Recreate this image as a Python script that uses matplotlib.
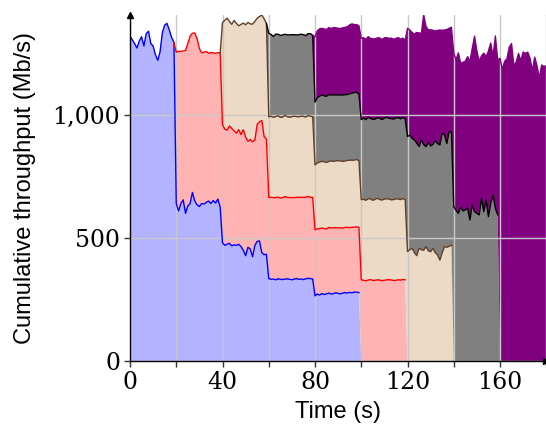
import matplotlib.pyplot as plt
import numpy as np
from matplotlib.ticker import MultipleLocator, FuncFormatter

# per-flow throughput (Mb/s), one sample per second while the flow is active
starts = [0, 20, 40, 60, 80]

flow1 = [1320, 1305, 1290, 1272, 1300, 1318, 1280, 1330, 1340, 1290, 1280, 1245, 1222, 1257, 1335, 1365, 1372, 1345, 1315, 1295,
         640, 610, 640, 655, 600, 630, 640, 685, 650, 635, 628, 640, 638, 645, 650, 640, 652, 642, 658, 625,
         480, 470, 475, 478, 468, 472, 470, 474, 465, 450, 428, 462, 455, 424, 470, 486, 488, 440, 432, 434,
         335, 332, 333, 330, 334, 332, 331, 333, 334, 332, 330, 333, 335, 332, 333, 331, 334, 336, 335, 333,
         265, 272, 268, 274, 270, 273, 276, 272, 274, 277, 275, 273, 276, 278, 276, 279, 277, 280, 280, 278]
flow2 = [615, 648, 618, 605, 662, 660, 680, 647, 683, 675, 642, 612, 617, 613, 600, 614, 600, 608, 595, 627,
         480, 472, 463, 477, 477, 463, 456, 466, 455, 490, 482, 431, 445, 467, 428, 476, 484, 537, 480, 468,
         330, 333, 331, 334, 332, 330, 333, 335, 331, 332, 334, 331, 330, 333, 332, 334, 331, 333, 330, 332,
         268, 265, 270, 266, 268, 264, 266, 269, 267, 265, 266, 268, 264, 265, 267, 263, 266, 264, 265, 266,
         330, 328, 326, 329, 331, 327, 328, 330, 329, 326, 328, 330, 331, 329, 327, 328, 330, 329, 331, 330]
flow3 = [415, 443, 455, 425, 423, 449, 446, 422, 448, 433, 456, 483, 470, 478, 482, 431, 428, 429, 478, 470,
         327, 330, 326, 329, 331, 328, 327, 330, 328, 326, 329, 331, 328, 327, 330, 329, 326, 328, 330, 327,
         264, 268, 270, 272, 271, 270, 269, 272, 270, 271, 273, 272, 271, 270, 272, 274, 273, 272, 274, 270,
         326, 329, 327, 330, 328, 326, 329, 331, 327, 328, 330, 329, 327, 326, 329, 331, 328, 327, 329, 326,
         445, 452, 458, 440, 428, 458, 452, 450, 465, 448, 444, 458, 440, 431, 410, 440, 465, 462, 466, 470]
flow4 = [340, 332, 329, 335, 331, 333, 334, 330, 332, 335, 333, 331, 332, 334, 333, 332, 331, 333, 335, 332,
         255, 265, 268, 270, 268, 269, 271, 268, 270, 269, 267, 268, 270, 269, 268, 270, 272, 275, 273, 270,
         325, 330, 328, 331, 327, 329, 326, 328, 330, 327, 329, 331, 328, 330, 327, 329, 331, 328, 330, 327,
         467, 466, 447, 458, 457, 414, 446, 430, 406, 439, 430, 422, 455, 453, 468, 486, 454, 422, 466, 460,
         627, 612, 600, 624, 610, 614, 621, 573, 634, 607, 600, 594, 661, 607, 654, 587, 641, 675, 620, 594]
flow5 = [265, 272, 274, 270, 272, 271, 273, 270, 274, 272, 271, 270, 273, 274, 275, 280, 282, 276, 275, 278,
         330, 327, 326, 328, 325, 327, 326, 324, 327, 325, 326, 324, 325, 327, 324, 323, 325, 324, 322, 320,
         440, 427, 430, 431, 450, 461, 434, 526, 489, 458, 472, 464, 446, 459, 467, 418, 426, 463, 420, 426,
         623, 613, 652, 586, 604, 604, 616, 644, 636, 713, 660, 623, 579, 644, 583, 673, 651, 562, 701, 630,
         1230, 1185, 1218, 1228, 1275, 1290, 1200, 1215, 1250, 1220, 1255, 1250, 1255, 1230, 1180, 1235, 1200, 1150, 1203, 1196, 1200]

flows = [flow1, flow2, flow3, flow4, flow5]
fills = ["#b3b3ff", "#ffb3b3", "#ecd9c6", "#808080", "#800080"]
edges = ["#0000ff", "#ff0000", "#5e4027", "#000000", "#800080"]

t = np.arange(181)
Y = np.zeros((5, len(t)))
for i, (s, v) in enumerate(zip(starts, flows)):
    Y[i, s:s + len(v)] = v
cum = Y.cumsum(axis=0)

fig = plt.figure(figsize=(5.46, 4.36), dpi=100)
ax = fig.add_axes([130/546, 75/436, 416.25/546, 346/436])

ax.stackplot(t, Y, colors=fills, linewidth=0, zorder=2)
for i, (s, v) in enumerate(zip(starts, flows)):
    a = max(s - 1, 0)
    b = s + len(v) - 1
    ax.plot(t[a:b + 1], cum[i, a:b + 1], color=edges[i], lw=1, zorder=3)

ax.set_xlim(0, 180)
ax.set_ylim(0, 1406)
ax.xaxis.set_major_locator(MultipleLocator(40))
ax.xaxis.set_minor_locator(MultipleLocator(20))
ax.set_yticks([0, 500, 1000])
ax.yaxis.set_major_formatter(FuncFormatter(lambda v, p: f"{int(v):,}"))
ax.grid(True, which="both", color="#c8c8c8", lw=1, zorder=4)
ax.set_axisbelow(False)
ax.tick_params(which="both", direction="out", length=4, width=1, color="#333333")
ax.tick_params(which="major", labelsize=17, pad=3)
for lab in ax.get_xticklabels() + ax.get_yticklabels():
    lab.set_family("DejaVu Serif")

for side in ["top", "right"]:
    ax.spines[side].set_visible(False)
for side in ["left", "bottom"]:
    ax.spines[side].set_linewidth(1)
    ax.spines[side].set_zorder(5)
ax.plot(0, 1, "^", color="black", ms=5, transform=ax.transAxes, clip_on=False, zorder=6)
ax.plot(1, 0, ">", color="black", ms=5, transform=ax.transAxes, clip_on=False, zorder=6)

ax.set_xlabel("Time (s)", family="Liberation Sans", fontsize=17, labelpad=5)
ax.set_ylabel("Cumulative throughput (Mb/s)", family="Liberation Sans", fontsize=17, labelpad=12)

fig.savefig("out.png", dpi=100)
